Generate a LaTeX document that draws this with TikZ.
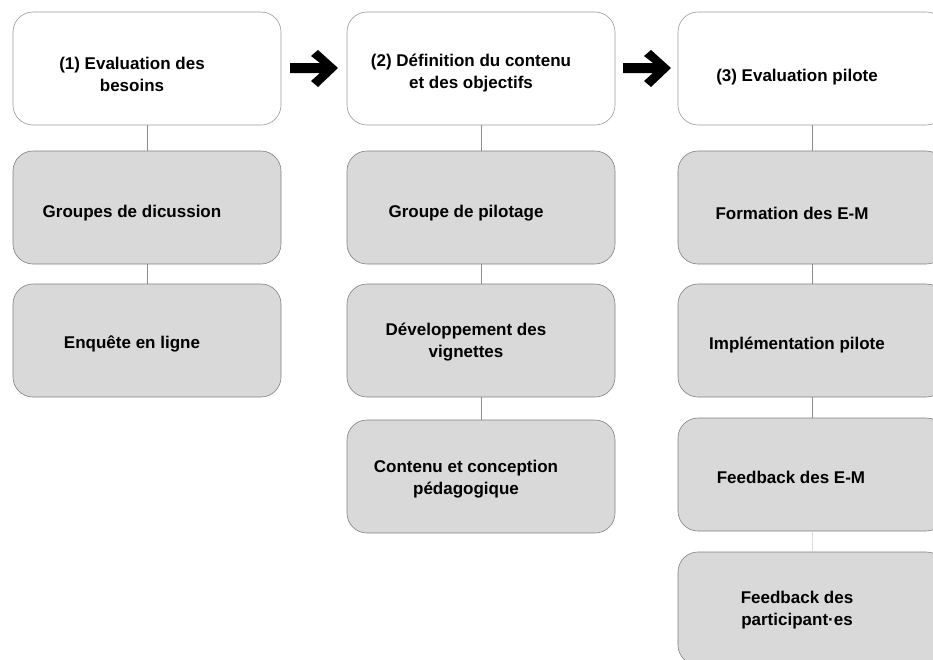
\documentclass[tikz,border=0pt]{standalone}
\usepackage{fontspec}
\setmainfont{Liberation Sans}
\begin{document}
\begin{tikzpicture}[x=1pt,y=-1pt,
  box/.style={draw=black!50, line width=0.6pt, rounded corners=20pt, minimum width=268pt, minimum height=113pt, inner sep=0pt},
  headbox/.style={box, fill=white, draw=black!40},
  subbox/.style={box, fill=black!15},
  txt/.style={font=\bfseries\fontsize{17}{22}\selectfont, align=center, inner sep=0pt, text=black},
  conn/.style={draw=black!45, line width=0.6pt},
  bigarrow/.style={fill=black}]
\useasboundingbox (0,0) rectangle (933,659);
\begin{scope}
\clip (0,0) rectangle (933,659);
% column 1
\node[headbox] (h1) at (147,68.5) {};
\node[subbox] (a1) at (147,207.5) {};
\node[subbox] (a2) at (147,340.5) {};
% column 2
\node[headbox] (h2) at (481,68.5) {};
\node[subbox] (b1) at (481,207.5) {};
\node[subbox] (b2) at (481,340.5) {};
\node[subbox] (b3) at (481,476.5) {};
% column 3
\node[headbox] (h3) at (812,68.5) {};
\node[subbox] (c1) at (812,207.5) {};
\node[subbox] (c2) at (812,340.5) {};
\node[subbox] (c3) at (812,474.5) {};
\node[subbox] (c4) at (812,608.5) {};
\end{scope}
% connectors
\draw[conn] (h1) -- (a1);
\draw[conn] (a1) -- (a2);
\draw[conn] (h2) -- (b1);
\draw[conn] (b1) -- (b2);
\draw[conn] (b2) -- (b3);
\draw[conn] (h3) -- (c1);
\draw[conn] (c1) -- (c2);
\draw[conn] (c2) -- (c3);
\draw[conn, draw=black!15] (c3) -- (c4);
% texts
\node[txt] (t1) at (132,74) {(1) Evaluation des\\besoins};
\node[txt] (t2) at (471,73) {(2) Définition du contenu\\et des objectifs};
\node[txt] (t3) at (797,77) {(3) Evaluation pilote};
\node[txt] (ta1) at (132,213) {Groupes de dicussion};
\node[txt] (ta2) at (132,344) {Enquête en ligne};
\node[txt] (tb1) at (466,213) {Groupe de pilotage};
\node[txt] (tb2) at (466,342) {Développement des\\vignettes};
\node[txt] (tb3) at (466,479) {Contenu et conception\\pédagogique};
\node[txt] (tc1) at (792,213) {Formation des E-M};
\node[txt] (tc2) at (797,345) {Implémentation pilote};
\node[txt] (tc3) at (791,477) {Feedback des E-M};
\node[txt] (tc4) at (797,610) {Feedback des\\participant·es};
% big arrows
\fill[bigarrow] (290,63) -- (320,63) -- (311,56) -- (318,50) -- (338,68) -- (318,87) -- (311,81) -- (320,73) -- (290,73) -- cycle;
\fill[bigarrow] (623,63) -- (653,63) -- (644,56) -- (651,50) -- (671,68) -- (651,87) -- (644,81) -- (653,73) -- (623,73) -- cycle;
\end{tikzpicture}
\end{document}
